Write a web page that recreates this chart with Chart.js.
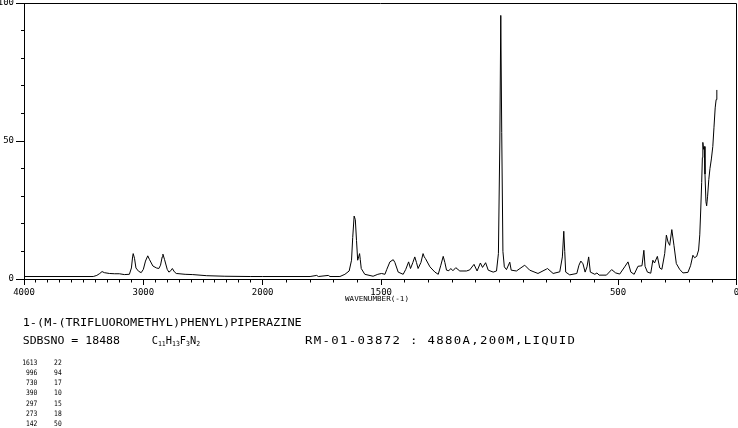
<!DOCTYPE html>
<html>
<head>
<meta charset="utf-8">
<script src="https://cdn.jsdelivr.net/npm/chart.js@4.4.1/dist/chart.umd.min.js"></script>
<style>
  html, body { margin: 0; padding: 0; background: #fff; }
  canvas { display: block; }
</style>
</head>
<body>
<canvas id="chart" width="738" height="428"></canvas>
<script>
// spectrum (cm-1 / relative intensity)
const wavenumbers = [
  4000, 3420, 3390, 3365, 3346, 3327, 3285, 3240, 3201, 3159, 3117, 3100, 3090, 3085, 3074, 3062,
  3040, 3018, 3000, 2982, 2963, 2948, 2920, 2890, 2870, 2856, 2842, 2836, 2822, 2800, 2786, 2770,
  2757, 2740, 2724, 2650, 2586, 2469, 2317, 2100, 2000, 1800, 1772, 1765, 1723, 1716, 1674, 1653,
  1635, 1625, 1620, 1614, 1609, 1604, 1599, 1595, 1591, 1588, 1584, 1569, 1534, 1514, 1498, 1484,
  1476, 1463, 1449, 1442, 1428, 1407, 1396, 1384, 1376, 1366, 1358, 1351, 1344, 1332, 1323, 1318,
  1313, 1294, 1273, 1259, 1248, 1238, 1231, 1224, 1214, 1206, 1197, 1185, 1168, 1140, 1126, 1108,
  1095, 1081, 1072, 1059, 1048, 1027, 1013, 1005, 999, 995, 991, 986, 980, 971, 957, 951,
  929, 894, 873, 838, 802, 798, 774, 746, 735, 729, 725, 721, 704, 674, 665, 657,
  648, 639, 631, 624, 617, 598, 589, 580, 549, 527, 510, 493, 472, 458, 446, 432,
  416, 399, 391, 386, 376, 362, 353, 346, 334, 324, 315, 303, 296, 289, 282, 273,
  264, 254, 240, 226, 205, 194, 184, 177, 168, 160, 155, 151, 147, 144, 142, 139,
  136, 133, 129, 126, 122, 117, 112, 106, 100, 95, 90, 86, 83
];
const intensities = [
  0.9, 0.9, 1.3, 2.0, 2.7, 2.3, 2.0, 1.9, 1.9, 1.6, 1.7, 4.0, 8.0, 9.2, 7.5, 4.0,
  2.8, 2.3, 3.5, 6.5, 8.4, 7.0, 4.7, 4.0, 3.8, 5.0, 8.0, 9.0, 7.0, 3.5, 2.5, 3.0,
  3.8, 2.6, 2.0, 1.7, 1.6, 1.2, 1.0, 0.9, 0.9, 0.9, 1.3, 0.9, 1.3, 0.9, 0.9, 1.7,
  2.9, 6.8, 15, 22.8, 21.5, 14, 6.8, 8.0, 9.2, 7.0, 3.8, 1.7, 1.0, 1.7, 2.0, 1.7,
  3.5, 6.2, 7.0, 6.0, 2.5, 1.7, 3.5, 6.2, 3.8, 6.0, 8.0, 6.0, 3.8, 6.0, 9.2, 8.0,
  7.4, 4.4, 2.5, 1.7, 5.0, 8.2, 6.0, 3.2, 3.0, 3.8, 3.0, 4.1, 2.9, 2.9, 3.3, 5.3,
  2.9, 5.8, 4.2, 5.9, 3.2, 2.5, 2.9, 9.2, 50, 95.5, 53, 10, 4.4, 3.4, 6.1, 3.2,
  2.9, 5.0, 3.2, 2.0, 3.6, 3.8, 2.0, 2.6, 8, 17.3, 10, 2.5, 1.5, 2.0, 5.0, 6.5,
  5.5, 2.5, 4.4, 8.0, 2.5, 1.7, 2.2, 1.4, 1.4, 3.4, 2.2, 1.8, 4.4, 6.2, 2.5, 1.7,
  4.6, 4.8, 10.4, 4.6, 2.5, 2.1, 6.8, 5.8, 8.2, 4.0, 3.5, 9.2, 15.9, 13.4, 12.2, 17.9,
  12.2, 5.6, 3.5, 2.2, 2.4, 4.8, 8.6, 7.7, 8.2, 10.5, 16, 25, 35, 44, 49.5, 47,
  48, 38, 28, 26.5, 30, 36, 40, 43.5, 48, 55, 62, 65, 68.5
];

// axis labels
const xTickValues = [];
for (let w = 4000; w >= 0; w -= 100) xTickValues.push(w);
const xLabels = [4000, 3000, 2000, 1500, 500, 0];
const yLabels = [0, 50, 100];
const xTitle = "WAVENUMBER(-1)";

// header text and peak list
const compoundName = "1-(M-(TRIFLUOROMETHYL)PHENYL)PIPERAZINE";
const sdbsText = "SDBSNO = 18488";
const formulaParts = [["C", false], ["11", true], ["H", false], ["13", true], ["F", false], ["3", true], ["N", false], ["2", true]];
const sampleText = "RM-01-03872 : 4880A,200M,LIQUID";
const peakWavenumbers = [1613, 996, 730, 390, 297, 273, 142];
const peakIntensities = [22, 94, 17, 10, 15, 18, 50];

const MONO = "'DejaVu Sans Mono', 'Liberation Mono', monospace";

// 4000-2000 at half scale, 2000-0 at full scale
const BREAK = 0.335;
class SplitScale extends Chart.LinearScale {
  buildTicks() {
    this.start = this.min;
    this.end = this.max;
    return xTickValues.map(v => ({ value: v }));
  }
  getPixelForValue(value) {
    if (value === null || value === undefined || isNaN(value)) return NaN;
    const d = value >= 2000
      ? (4000 - value) / 2000 * BREAK
      : BREAK + (2000 - value) / 2000 * (1 - BREAK);
    return this.getPixelForDecimal(d);
  }
  getValueForPixel(pixel) {
    const d = this.getDecimalForPixel(pixel);
    return d <= BREAK ? 4000 - d / BREAK * 2000 : 2000 - (d - BREAK) / (1 - BREAK) * 2000;
  }
}
SplitScale.id = "split";
SplitScale.defaults = Chart.LinearScale.defaults;
Chart.register(SplitScale);

function noPad(s) {
  s.paddingLeft = 0; s.paddingRight = 0; s.paddingTop = 0; s.paddingBottom = 0;
}

// draws text to fill a given width: widens glyphs a little then spreads letters,
// squeezes when too long
function fitText(ctx, text, x, y, width, font, align) {
  ctx.save();
  ctx.font = font;
  ctx.textBaseline = "middle";
  ctx.textAlign = align || "left";
  const m = ctx.measureText(text).width;
  ctx.translate(x, y);
  if (width && width > m && "letterSpacing" in ctx && text.length > 1 && !align) {
    const s = Math.min(width / m, 1.12);
    ctx.scale(s, 1);
    ctx.letterSpacing = ((width / s - m) / (text.length - 1)) + "px";
  } else if (width) {
    ctx.scale(width / m, 1);
  }
  ctx.fillText(text, 0, 0);
  ctx.restore();
}

const decorations = {
  id: "decorations",
  afterDraw(chart) {
    const { ctx, chartArea: a, scales: { x, y } } = chart;
    ctx.save();
    ctx.strokeStyle = "#000";
    ctx.fillStyle = "#000";
    ctx.lineWidth = 1;
    const al = p => Math.round(p - 0.5) + 0.5;

    // top and right frame
    ctx.beginPath();
    ctx.moveTo(al(a.left), al(a.top));
    ctx.lineTo(al(a.right), al(a.top));
    ctx.lineTo(al(a.right), al(a.bottom));
    ctx.stroke();

    // minor ticks
    ctx.beginPath();
    x.ticks.forEach(t => {
      if (xLabels.includes(t.value)) return;
      const px = al(x.getPixelForValue(t.value));
      ctx.moveTo(px, a.bottom);
      ctx.lineTo(px, a.bottom + 3.5);
    });
    y.ticks.forEach(t => {
      if (yLabels.includes(t.value)) return;
      const py = al(y.getPixelForValue(t.value));
      ctx.moveTo(a.left, py);
      ctx.lineTo(a.left - 3, py);
    });
    ctx.stroke();

    // axis title
    fitText(ctx, xTitle, 345, 299, 64, "7px " + MONO);

    // header lines
    fitText(ctx, compoundName, 22.7, 323.3, 279, "11px " + MONO);
    fitText(ctx, sdbsText, 22.7, 341, 97.3, "11px " + MONO);
    let fx = 151.7;
    formulaParts.forEach(([txt, sub]) => {
      const font = (sub ? "7px " : "11px ") + MONO;
      ctx.save();
      ctx.font = font;
      const w = ctx.measureText(txt).width * (sub ? 0.93 : 0.94);
      ctx.restore();
      fitText(ctx, txt, fx, sub ? 344 : 341, w * 0.999, font);
      fx += w;
    });
    fitText(ctx, sampleText, 305, 341, 270, "11px " + MONO);

    // peak list
    peakWavenumbers.forEach((w, i) => {
      const ry = 363.3 + i * 10.08;
      ctx.save();
      ctx.font = "7.5px " + MONO;
      const w1 = ctx.measureText(String(w)).width * 0.84;
      const w2 = ctx.measureText(String(peakIntensities[i])).width * 0.84;
      ctx.restore();
      fitText(ctx, String(w), 37.3, ry, w1, "7.5px " + MONO, "right");
      fitText(ctx, String(peakIntensities[i]), 61.7, ry, w2, "7.5px " + MONO, "right");
    });
    ctx.restore();
  }
};

new Chart(document.getElementById("chart"), {
  type: "line",
  data: {
    datasets: [{
      data: wavenumbers.map((w, i) => ({ x: w, y: intensities[i] })),
      borderColor: "#000",
      borderWidth: 1,
      pointRadius: 0,
      fill: false,
      tension: 0
    }]
  },
  options: {
    responsive: false,
    animation: false,
    events: [],
    layout: { padding: { top: 3, right: 1.5, bottom: 129, left: 0 } },
    plugins: { legend: { display: false }, tooltip: { enabled: false } },
    scales: {
      x: {
        type: "split",
        min: 0,
        max: 4000,
        afterFit: s => { s.height = 20; noPad(s); },
        border: { display: true, color: "#000", width: 1 },
        grid: {
          display: true,
          drawOnChartArea: false,
          tickLength: 6,
          tickColor: c => (c.tick && xLabels.includes(c.tick.value)) ? "#000" : "rgba(0,0,0,0)"
        },
        ticks: {
          autoSkip: false,
          maxRotation: 0,
          minRotation: 0,
          padding: 2,
          color: "#000",
          font: { family: MONO, size: 9 },
          callback: v => xLabels.includes(v) ? String(v) : ""
        }
      },
      y: {
        min: 0,
        max: 100,
        afterFit: s => { s.width = 24; noPad(s); },
        border: { display: true, color: "#000", width: 1 },
        grid: {
          display: true,
          drawOnChartArea: false,
          tickLength: 8,
          tickColor: c => (c.tick && yLabels.includes(c.tick.value)) ? "#000" : "rgba(0,0,0,0)"
        },
        ticks: {
          stepSize: 10,
          autoSkip: false,
          padding: 2,
          color: "#000",
          font: { family: MONO, size: 9 },
          callback: v => yLabels.includes(v) ? String(v) : ""
        }
      }
    }
  },
  plugins: [decorations]
});
</script>
</body>
</html>
